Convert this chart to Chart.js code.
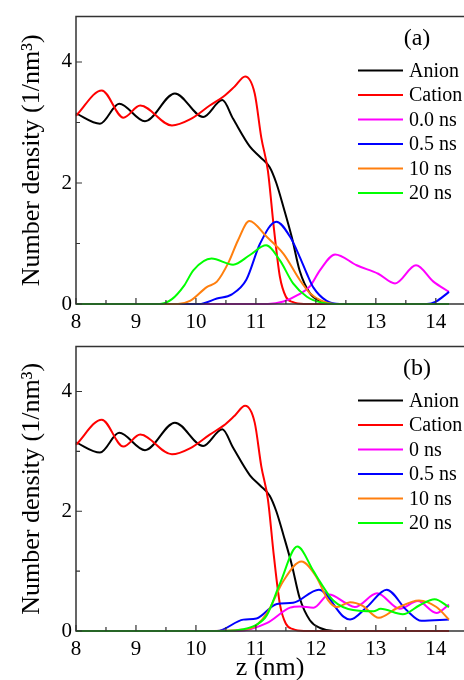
<!DOCTYPE html>
<html>
<head>
<meta charset="utf-8">
<script src="https://cdn.jsdelivr.net/npm/chart.js@4.4.0/dist/chart.umd.min.js"></script>
<style>
  html, body { margin: 0; padding: 0; background: #fff; overflow: hidden; }
  #wrap { position: relative; width: 464px; height: 680px; overflow: hidden; }
  .panel { position: absolute; left: 0; width: 464px; }
  #panelA { top: 0; height: 330px; }
  #panelB { top: 330px; height: 356px; }
</style>
</head>
<body>
<div id="wrap">
  <div class="panel" id="panelA"><canvas id="chartA"></canvas></div>
  <div class="panel" id="panelB"><canvas id="chartB"></canvas></div>
</div>
<script>
// ---- data (z in nm, density in 1/nm^3) ----
const labelsA = ['Anion', 'Cation', '0.0 ns', '0.5 ns', '10 ns', '20 ns'];
const labelsB = ['Anion', 'Cation', '0 ns', '0.5 ns', '10 ns', '20 ns'];
const xTicks = [8, 9, 10, 11, 12, 13, 14];
const yTicks = [0, 2, 4];

// ion profiles, same in both panels
const anionZ = [8.0, 8.4, 8.72, 9.15, 9.65, 10.12, 10.44, 10.62, 10.9, 11.07, 11.23, 11.34, 11.46, 11.6, 11.73, 11.9, 12.07, 12.3, 14.22];
const anionY = [3.15, 2.98, 3.31, 3.02, 3.48, 3.09, 3.37, 3.06, 2.6, 2.43, 2.26, 2.0, 1.6, 1.1, 0.55, 0.18, 0.05, 0, 0];
const cationZ = [8.0, 8.43, 8.79, 9.07, 9.6, 9.9, 10.23, 10.46, 10.65, 10.82, 10.98, 11.09, 11.2, 11.3, 11.4, 11.5, 11.62, 11.8, 14.22];
const cationY = [3.11, 3.53, 3.08, 3.28, 2.95, 3.05, 3.28, 3.43, 3.6, 3.76, 3.48, 2.75, 2.2, 1.25, 0.45, 0.12, 0.03, 0, 0];

// panel (a)
const a00Z = [8.0, 11.2, 11.46, 11.7, 11.9, 12.07, 12.32, 12.68, 13.04, 13.32, 13.67, 13.96, 14.22];
const a00Y = [0, 0, 0.04, 0.15, 0.29, 0.56, 0.82, 0.64, 0.5, 0.34, 0.64, 0.37, 0.2];
const a05Z = [8.0, 10.05, 10.35, 10.6, 10.84, 11.07, 11.34, 11.57, 11.73, 11.85, 11.96, 12.18, 12.4, 13.85, 14.0, 14.22];
const a05Y = [0, 0, 0.09, 0.16, 0.4, 1.0, 1.36, 1.11, 0.78, 0.5, 0.27, 0.05, 0, 0, 0.04, 0.2];
const a10Z = [8.0, 9.7, 9.9, 10.18, 10.35, 10.55, 10.7, 10.89, 11.18, 11.46, 11.73, 11.9, 12.1, 12.3, 14.22];
const a10Y = [0, 0, 0.05, 0.28, 0.37, 0.7, 1.05, 1.37, 1.11, 0.83, 0.4, 0.18, 0.05, 0, 0];
const a20Z = [8.0, 9.4, 9.6, 9.8, 9.96, 10.26, 10.62, 10.9, 11.17, 11.4, 11.62, 11.85, 12.1, 12.3, 14.22];
const a20Y = [0, 0, 0.08, 0.3, 0.56, 0.75, 0.65, 0.81, 0.97, 0.72, 0.34, 0.12, 0.02, 0, 0];

// panel (b)
const b00Z = [8.0, 10.7, 11.18, 11.57, 11.73, 11.96, 12.22, 12.51, 12.65, 13.02, 13.4, 13.7, 14.01, 14.22];
const b00Y = [0, 0, 0.13, 0.39, 0.41, 0.39, 0.61, 0.46, 0.4, 0.63, 0.37, 0.5, 0.3, 0.44];
const b05Z = [8.0, 10.35, 10.79, 11.01, 11.35, 11.62, 12.05, 12.46, 12.57, 12.85, 13.18, 13.51, 13.76, 14.22];
const b05Y = [0, 0, 0.19, 0.21, 0.45, 0.47, 0.69, 0.24, 0.19, 0.4, 0.69, 0.35, 0.17, 0.19];
const b10Z = [8.0, 10.3, 10.9, 11.18, 11.46, 11.76, 12.01, 12.2, 12.35, 12.57, 12.78, 13.05, 13.35, 13.72, 14.01, 14.22];
const b10Y = [0, 0, 0.04, 0.29, 0.84, 1.16, 0.9, 0.52, 0.4, 0.48, 0.42, 0.22, 0.38, 0.51, 0.4, 0.19];
const b20Z = [8.0, 10.5, 10.8, 11.0, 11.18, 11.4, 11.69, 11.96, 12.07, 12.29, 12.62, 12.96, 13.08, 13.45, 13.73, 13.98, 14.22];
const b20Y = [0, 0, 0.03, 0.1, 0.26, 0.79, 1.41, 1.0, 0.82, 0.51, 0.35, 0.33, 0.37, 0.28, 0.43, 0.53, 0.4];

const colors = ['#000000', '#ff0000', '#ff00ff', '#0000ff', '#ff7f0e', '#00ff00'];
const SERIF = '"Liberation Serif", "Times New Roman", serif';

function pts(z, y) {
    return z.map((v, i) => ({ x: v, y: y[i] }));
}

// frame, inward ticks, panel tag and the in-plot legend
const framePlugin = {
    id: 'frame',
    afterDraw(chart, args, opts) {
        const { ctx, chartArea: a, scales: { x, y } } = chart;
        ctx.save();
        ctx.strokeStyle = '#333';
        ctx.lineWidth = 1.5;
        ctx.beginPath();
        ctx.moveTo(a.right + 5, a.top);
        ctx.lineTo(a.left, a.top);
        ctx.lineTo(a.left, a.bottom);
        ctx.lineTo(a.right + 5, a.bottom);
        ctx.stroke();

        ctx.lineWidth = 1.2;
        ctx.beginPath();
        for (let v = 8; v <= 14.5; v += 0.5) {
            const px = x.getPixelForValue(v);
            const len = Number.isInteger(v) ? 6 : 4;
            ctx.moveTo(px, a.bottom);
            ctx.lineTo(px, a.bottom - len);
        }
        for (let v = 0; v <= 4; v += 1) {
            const py = y.getPixelForValue(v);
            const len = v % 2 === 0 ? 6 : 4;
            ctx.moveTo(a.left, py);
            ctx.lineTo(a.left + len, py);
        }
        ctx.stroke();

        // panel tag
        ctx.fillStyle = '#000';
        ctx.font = '24px ' + SERIF;
        ctx.textAlign = 'center';
        ctx.textBaseline = 'middle';
        ctx.fillText(opts.tag, a.left + 341, a.top + 22);

        // legend
        ctx.font = '20px ' + SERIF;
        ctx.textAlign = 'left';
        chart.data.datasets.forEach((ds, i) => {
            const ry = a.top + 54 + i * 24.5;
            ctx.strokeStyle = ds.borderColor;
            ctx.lineWidth = 2;
            ctx.beginPath();
            ctx.moveTo(a.left + 282, ry);
            ctx.lineTo(a.left + 327, ry);
            ctx.stroke();
            ctx.fillText(ds.label, a.left + 333, ry + 1);
        });
        ctx.restore();
    }
};

function makeChart(id, tag, labels, series, padTop, xHeight, xTitle) {
    const ctx = document.getElementById(id).getContext('2d');
    return new Chart(ctx, {
        type: 'line',
        data: {
            datasets: series.map((s, i) => ({
                label: labels[i],
                data: pts(s[0], s[1]),
                borderColor: colors[i],
                backgroundColor: colors[i],
                borderWidth: 2,
                pointRadius: 0,
                fill: false,
                cubicInterpolationMode: 'monotone',
                clip: false,
                order: series.length - i
            }))
        },
        options: {
            responsive: true,
            maintainAspectRatio: false,
            animation: false,
            events: [],
            layout: { padding: { top: padTop, left: 0, right: 0, bottom: 0 } },
            plugins: {
                legend: { display: false },
                tooltip: { enabled: false },
                frame: { tag: tag }
            },
            scales: {
                x: {
                    type: 'linear',
                    min: 8,
                    max: 14.47,
                    grid: { display: false, drawTicks: false },
                    border: { display: false },
                    afterBuildTicks: s => { s.ticks = xTicks.map(v => ({ value: v })); },
                    afterFit: s => { s.height = xHeight; },
                    ticks: {
                        padding: 6,
                        maxRotation: 0,
                        color: '#000',
                        font: { family: SERIF, size: 21 }
                    },
                    title: {
                        display: !!xTitle,
                        text: xTitle || '',
                        color: '#000',
                        font: { family: SERIF, size: 26 },
                        padding: { top: 0, bottom: 2 }
                    }
                },
                y: {
                    min: 0,
                    max: 4.75,
                    grid: { display: false, drawTicks: false },
                    border: { display: false },
                    afterBuildTicks: s => { s.ticks = yTicks.map(v => ({ value: v })); },
                    afterFit: s => { s.width = 76; },
                    ticks: {
                        padding: 4,
                        color: '#000',
                        font: { family: SERIF, size: 21 }
                    },
                    title: {
                        display: true,
                        text: 'Number density (1/nm³)',
                        color: '#000',
                        font: { family: SERIF, size: 26 },
                        padding: { top: 17, bottom: 0 }
                    }
                }
            }
        },
        plugins: [framePlugin]
    });
}

makeChart('chartA', '(a)', labelsA,
    [[anionZ, anionY], [cationZ, cationY], [a00Z, a00Y], [a05Z, a05Y], [a10Z, a10Y], [a20Z, a20Y]],
    15, 26, null);

makeChart('chartB', '(b)', labelsB,
    [[anionZ, anionY], [cationZ, cationY], [b00Z, b00Y], [b05Z, b05Y], [b10Z, b10Y], [b20Z, b20Y]],
    14, 55, 'z (nm)');
</script>
</body>
</html>
